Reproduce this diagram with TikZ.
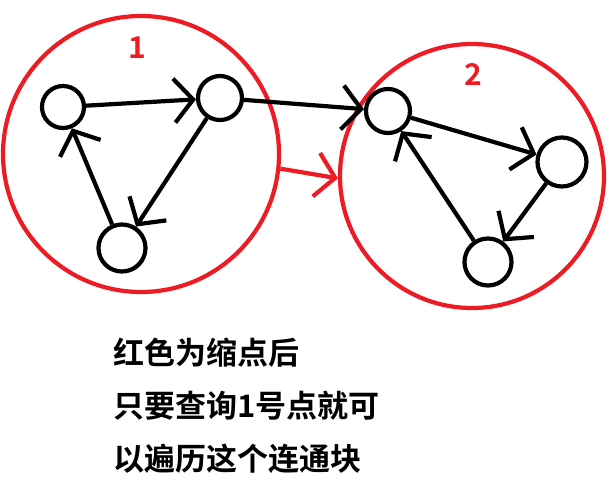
\documentclass[tikz,border=0pt]{standalone}
\usepackage{fontspec}
\newfontfamily\cjk{Noto Sans CJK SC Bold}
\usetikzlibrary{arrows.meta}
\definecolor{pred}{RGB}{237,28,36}
\tikzset{
  vert/.style={circle,draw=black,line width=4.2pt,inner sep=0pt},
  group/.style={circle,draw=pred,line width=4.2pt,inner sep=0pt},
  edge/.style={draw=black,line width=4.2pt,-{Straight Barb[length=19pt,width=44pt,line width=4.2pt]}},
  redge/.style={draw=pred,line width=4.2pt,-{Straight Barb[length=19pt,width=44pt,line width=4.2pt]}},
  glabel/.style={text=pred,font=\cjk\fontsize{30}{36}\selectfont},
  caption/.style={anchor=west,inner sep=0pt,font=\cjk\fontsize{31}{36}\selectfont}
}
\begin{document}
\begin{tikzpicture}[x=1pt,y=-1pt]
\useasboundingbox (0,0) rectangle (614,484);
\fill[white] (0,0) rectangle (614,484);
% red groups
\node[group,minimum size=276pt] (L) at (141,154) {};
\node[group,minimum size=264pt] (R) at (472,176) {};
\node[glabel] (l1) at (137,48) {1};
\node[glabel] (l2) at (473,74) {2};
% left vertices
\node[vert,minimum size=42pt] (A) at (63,107) {};
\node[vert,minimum size=44pt] (B) at (220,98) {};
\node[vert,minimum size=47pt] (C) at (122,248) {};
% right vertices
\node[vert,minimum size=44pt] (D) at (388,111) {};
\node[vert,minimum size=49pt] (E) at (562,162) {};
\node[vert,minimum size=47pt] (F) at (488,262) {};
% edges
\draw[edge] (A) -- (B);
\draw[edge] (B) -- (C);
\draw[edge] (C) -- (A);
\draw[edge] (B) -- (D);
\draw[edge] (D) -- (E);
\draw[edge] (E) -- (F);
\draw[edge] (F) -- (D);
\draw[redge] (L.-6) -- (R.181);
% caption
\node[caption] (t1) at (113,353) {红色为缩点后};
\node[caption] (t2) at (113,406) {只要查询1号点就可};
\node[caption] (t3) at (113,459) {以遍历这个连通块};
\end{tikzpicture}
\end{document}
